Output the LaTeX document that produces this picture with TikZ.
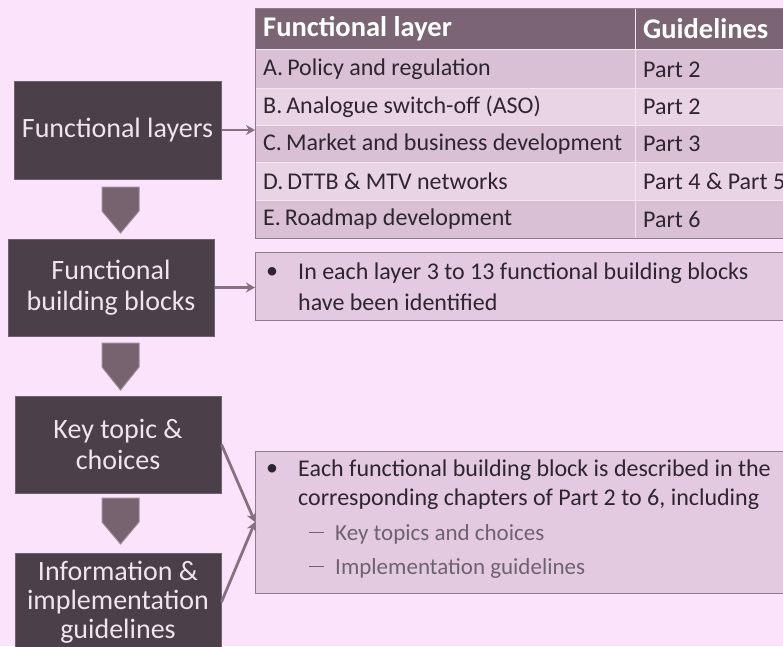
\documentclass[tikz,border=0pt]{standalone}
\usepackage{fontspec}
\setmainfont{Carlito}
\usetikzlibrary{arrows.meta,shapes.arrows}
\definecolor{bg}{HTML}{FBE4FB}
\definecolor{darkbox}{HTML}{4B3F49}
\definecolor{darkedge}{HTML}{6E6170}
\definecolor{boxtext}{HTML}{EEE6EE}
\definecolor{hdr}{HTML}{7B6575}
\definecolor{rowA}{HTML}{D9C0D5}
\definecolor{rowB}{HTML}{E9D4E6}
\definecolor{cellline}{HTML}{F3E6F1}
\definecolor{tborder}{HTML}{8E7B8B}
\definecolor{bulletfill}{HTML}{E3CAE0}
\definecolor{conn}{HTML}{85717F}
\definecolor{downfill}{HTML}{76636F}
\definecolor{downedge}{HTML}{9A8A98}
\definecolor{ink}{HTML}{2E2530}
\definecolor{subink}{HTML}{6F6270}
\newcommand{\subdash}{\raisebox{7pt}{\rule{15pt}{1.4pt}}\hspace{11pt}}
\tikzset{
  x=1pt, y=-1pt,
  darkblock/.style={draw=darkedge, line width=1pt, fill=darkbox, text=boxtext, align=center, font=\fontsize{28}{30.5}\selectfont, inner sep=0pt},
  celltext/.style={anchor=west, text=ink, font=\fontsize{24}{28}\selectfont, inner sep=0pt},
  hdrtext/.style={anchor=west, text=white, font=\bfseries\fontsize{28.5}{30}\selectfont, inner sep=0pt},
  bulletbox/.style={draw=tborder, line width=1.2pt, fill=bulletfill, inner sep=0pt},
  btext/.style={anchor=west, text=ink, font=\fontsize{24}{28}\selectfont, inner sep=0pt},
  stext/.style={anchor=west, text=subink, font=\fontsize{23}{26}\selectfont, inner sep=0pt},
  conarrow/.style={draw=conn, line width=2.8pt, -{Stealth[length=9pt,width=10pt]}},
  downarrow/.style={draw=downedge, line width=1pt, fill=downfill},
}
\begin{document}
\begin{tikzpicture}
\fill[bg] (0,0) rectangle (783,646);
\useasboundingbox (0,0) rectangle (783,646);

% left dark boxes
\node[darkblock, minimum width=207pt, minimum height=98pt] (fl) at (117.5,130) {Functional layers};
\node[darkblock, minimum width=206pt, minimum height=97pt] (fbb) at (111,287.5) {Functional\\building blocks};
\node[darkblock, minimum width=206pt, minimum height=97pt] (kt) at (118,444.5) {Key topic \&\\choices};
\node[darkblock, minimum width=206pt, minimum height=98pt, font=\fontsize{28}{29}\selectfont] (ig) at (118,602) {Information \&\\implementation\\guidelines};

% down arrows
\draw[downarrow] (102,187) -- (139,187) -- (139,211) -- (120.5,233) -- (102,211) -- cycle;
\draw[downarrow] (102,343) -- (139,343) -- (139,367) -- (120.5,390) -- (102,367) -- cycle;
\draw[downarrow] (102,498) -- (139,498) -- (139,522) -- (120.5,544) -- (102,522) -- cycle;

% table
\fill[hdr] (255,8) rectangle (790,49);
\fill[rowA] (255,49) rectangle (790,88);
\fill[rowB] (255,88) rectangle (790,125);
\fill[rowA] (255,125) rectangle (790,162);
\fill[rowB] (255,162) rectangle (790,200);
\fill[rowA] (255,200) rectangle (790,238);
\foreach \yy in {49,88,125,162,200} \draw[cellline, line width=1pt] (255,\yy) -- (790,\yy);
\draw[cellline, line width=1pt] (635,8) -- (635,238);
\node[draw=tborder, line width=1.2pt, minimum width=545pt, minimum height=230pt, anchor=north west, inner sep=0pt] (tbl) at (255,8) {};

\node[hdrtext] (h1) at (263,29) {Functional layer};
\node[hdrtext] (h2) at (643,29) {Guidelines};
\node[celltext] (a1) at (263,69.5) {A.\,Policy and regulation};
\node[celltext] (a2) at (643,69.5) {Part 2};
\node[celltext] (b1) at (263,107) {B.\,Analogue switch-off (ASO)};
\node[celltext] (b2) at (643,107) {Part 2};
\node[celltext] (c1) at (263,144) {C.\,Market and business development};
\node[celltext] (c2) at (643,144) {Part 3};
\node[celltext] (d1) at (263,181.5) {D.\,DTTB \& MTV networks};
\node[celltext] (d2) at (643,181.5) {Part 4 \& Part 5};
\node[celltext] (e1) at (263,219.5) {E.\,Roadmap development};
\node[celltext] (e2) at (643,219.5) {Part 6};

% bullet box 2
\node[bulletbox, minimum width=545pt, minimum height=68pt, anchor=north west] (bb2) at (255,252) {};
\node[btext] (bl2) at (266,273) {\textbullet};
\node[btext] (t21) at (298,273) {In each layer 3 to 13 functional building blocks};
\node[btext] (t22) at (298,302) {have been identified};

% bullet box 3
\node[bulletbox, minimum width=545pt, minimum height=142pt, anchor=north west] (bb3) at (255,451) {};
\node[btext] (bl3) at (266,470) {\textbullet};
\node[btext] (t31) at (298,470) {Each functional building block is described in the};
\node[btext] (t32) at (298,499) {corresponding chapters of Part 2 to 6, including};
\node[stext] (s1) at (309,534) {\subdash Key topics and choices};
\node[stext] (s2) at (309,568) {\subdash Implementation guidelines};

% connectors
\coordinate (j3) at (255,522);
\draw[conarrow] (fl.east) -- (tbl.west |- fl.east);
\draw[conarrow] (fbb.east) -- (bb2.west |- fbb.east);
\draw[conarrow] (kt.east) -- (j3);
\draw[conarrow] (ig.east) -- (j3);
\end{tikzpicture}
\end{document}
